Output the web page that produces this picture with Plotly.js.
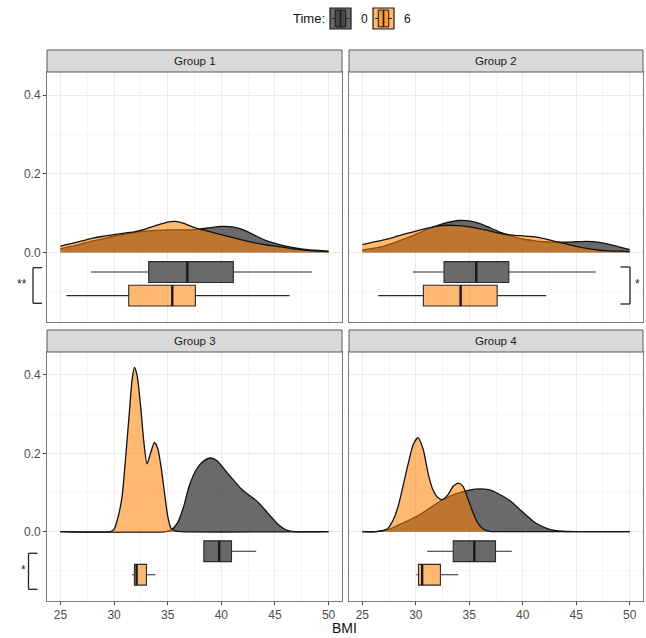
<!DOCTYPE html>
<html><head><meta charset="utf-8">
<script src="https://cdn.plot.ly/plotly-3.0.1.min.js"></script>
<style>html,body{margin:0;padding:0;background:#fff;} #chart{width:646px;height:638px;}</style>
</head><body><div id="chart"></div>
<script>
// ---------- data ----------
const groups = ['Group 1', 'Group 2', 'Group 3', 'Group 4'];
const times = ['0', '6'];
const legendTitle = 'Time:';
const bmiTicks = [25, 30, 35, 40, 45, 50];
const densityTicks = [0, 0.2, 0.4];
const densityTickText = ['0.0', '0.2', '0.4'];

// density curves (BMI, density)
const g1t0X = [25, 26, 27, 28, 29, 30, 31, 32, 33, 34, 35, 36, 37, 38, 39, 40, 41, 42, 43, 44, 45, 46, 47, 48, 49, 50];
const g1t0Y = [0.009, 0.015, 0.022, 0.029, 0.035, 0.041, 0.046, 0.051, 0.054, 0.056, 0.057, 0.057, 0.057, 0.059, 0.063, 0.066, 0.065, 0.058, 0.045, 0.032, 0.023, 0.016, 0.011, 0.007, 0.005, 0.003];
const g1t6X = [25, 26, 27, 28, 29, 30, 31, 32, 33, 34, 35, 35.7, 36.5, 37.5, 38.3, 39, 40, 41, 42, 43, 44, 45, 46, 47, 48, 49, 50];
const g1t6Y = [0.016, 0.022, 0.029, 0.036, 0.041, 0.045, 0.049, 0.053, 0.060, 0.069, 0.077, 0.079, 0.074, 0.063, 0.057, 0.052, 0.045, 0.038, 0.031, 0.025, 0.020, 0.016, 0.012, 0.008, 0.005, 0.003, 0.002];

const g2t0X = [25, 26, 27, 28, 29, 30, 31, 32, 33, 34, 35, 36, 37, 38, 39, 40, 41, 42, 43, 44, 45, 46, 47, 48, 49, 50];
const g2t0Y = [0.006, 0.010, 0.016, 0.025, 0.035, 0.046, 0.058, 0.068, 0.076, 0.081, 0.080, 0.073, 0.062, 0.050, 0.041, 0.034, 0.030, 0.027, 0.026, 0.026, 0.027, 0.028, 0.026, 0.021, 0.014, 0.007];
const g2t6X = [25, 26, 27, 28, 29, 30, 31, 32, 33, 34, 35, 36, 37, 38, 39, 40, 41, 42, 43, 44, 45, 46, 47, 48, 49, 50];
const g2t6Y = [0.020, 0.026, 0.032, 0.039, 0.047, 0.054, 0.061, 0.067, 0.069, 0.068, 0.065, 0.060, 0.054, 0.048, 0.044, 0.042, 0.040, 0.035, 0.028, 0.022, 0.015, 0.010, 0.006, 0.004, 0.003, 0.002];

const g3t0X = [25, 34.8, 35.3, 35.9, 36.5, 36.8, 37.1, 37.7, 38.35, 39.0, 39.6, 40.5, 41.15, 41.8, 42.4, 43.0, 43.6, 44.25, 44.8, 45.2, 45.7, 46.1, 46.8, 50];
const g3t0Y = [0, 0, 0.004, 0.022, 0.065, 0.097, 0.124, 0.160, 0.180, 0.188, 0.181, 0.152, 0.131, 0.111, 0.097, 0.085, 0.070, 0.050, 0.033, 0.021, 0.010, 0.004, 0, 0];
const g3t6X = [25, 29.6, 30.0, 30.4, 30.75, 31.06, 31.37, 31.68, 31.9, 32.14, 32.45, 32.76, 33.07, 33.4, 33.76, 34.07, 34.38, 34.7, 35.0, 35.3, 35.7, 36.2, 50];
const g3t6Y = [0, 0, 0.006, 0.040, 0.090, 0.183, 0.285, 0.387, 0.419, 0.400, 0.328, 0.234, 0.173, 0.200, 0.228, 0.213, 0.166, 0.100, 0.040, 0.009, 0.002, 0, 0];

const g4t0X = [25, 26.2, 27, 27.6, 28.8, 30.1, 31.3, 32.55, 33.8, 35.0, 36.0, 36.8, 37.5, 38.75, 40.0, 41.2, 42.5, 43.7, 45, 50];
const g4t0Y = [0, 0, 0.003, 0.007, 0.022, 0.039, 0.060, 0.082, 0.097, 0.106, 0.109, 0.107, 0.100, 0.080, 0.050, 0.022, 0.006, 0.001, 0, 0];
const g4t6X = [25, 26.4, 27, 27.4, 27.9, 28.35, 28.8, 29.3, 29.75, 30.2, 30.7, 31.15, 31.6, 32.1, 32.5, 33.0, 33.5, 34.0, 34.4, 34.9, 35.35, 35.8, 36.3, 36.9, 37.5, 50];
const g4t6Y = [0, 0, 0.003, 0.009, 0.031, 0.065, 0.116, 0.175, 0.222, 0.240, 0.209, 0.149, 0.107, 0.086, 0.082, 0.094, 0.116, 0.124, 0.116, 0.082, 0.048, 0.022, 0.007, 0.001, 0, 0];

const densX0 = [g1t0X, g2t0X, g3t0X, g4t0X];
const densY0 = [g1t0Y, g2t0Y, g3t0Y, g4t0Y];
const densX6 = [g1t6X, g2t6X, g3t6X, g4t6X];
const densY6 = [g1t6Y, g2t6Y, g3t6Y, g4t6Y];

// box plot statistics per group (Group 1..4)
const lowerT0 = [27.86, 29.72, 38.37, 31.06];
const q1T0 = [33.23, 32.64, 38.37, 33.50];
const medT0 = [36.83, 35.65, 39.80, 35.47];
const q3T0 = [41.12, 38.70, 40.95, 37.45];
const upperT0 = [48.45, 46.83, 43.25, 38.98];
const lowerT6 = [25.56, 26.49, 31.69, 30.06];
const q1T6 = [31.37, 30.71, 31.90, 30.25];
const medT6 = [35.43, 34.19, 32.10, 30.59];
const q3T6 = [37.58, 37.61, 33.02, 32.30];
const upperT6 = [46.37, 42.20, 33.86, 33.98];
const boxPos = [-0.05, -0.11];

// significance labels
const sigLabels = ['**', '*', '*', ''];

// ---------- styling ----------
const W = 646, H = 638;
const grayFill = 'rgba(64,64,64,0.78)';
const orangeFill = 'rgba(255,128,0,0.55)';
const xDom = [[47 / W, 342 / W], [349 / W, 643 / W]];
const yPix = [[72, 322], [352, 601]];
const yDom = yPix.map(p => [1 - p[1] / H, 1 - p[0] / H]);
const xRange = [23.75, 51.25];
const yRange = [-0.177, 0.4586];
const boxW = 0.053;

const traces = [];
const layout = {
  width: W, height: H,
  margin: {l: 0, r: 0, t: 0, b: 0},
  paper_bgcolor: '#fff', plot_bgcolor: '#fff',
  font: {family: 'Liberation Sans, Arial, sans-serif', color: '#222'},
  boxmode: 'overlay',
  showlegend: false,
  shapes: [], annotations: []
};

groups.forEach((g, i) => {
  const col = i % 2, row = Math.floor(i / 2);
  const s = i === 0 ? '' : String(i + 1);
  const xa = 'x' + s, ya = 'y' + s;
  layout['xaxis' + s] = {
    domain: xDom[col], range: xRange, anchor: ya,
    tickmode: 'array', tickvals: bmiTicks, ticktext: bmiTicks.map(String),
    showticklabels: row === 1, ticks: row === 1 ? 'outside' : '', ticklen: 3, tickcolor: '#444', tickwidth: 1,
    tickfont: {size: 12, color: '#4d4d4d'},
    showgrid: true, gridcolor: '#ebebeb', gridwidth: 1,
    minor: {tickmode: 'array', tickvals: [27.5, 32.5, 37.5, 42.5, 47.5], showgrid: true, gridcolor: '#f3f3f3', gridwidth: 0.7},
    showline: true, mirror: true, linecolor: '#7a7a7a', linewidth: 1, zeroline: false, fixedrange: true
  };
  layout['yaxis' + s] = {
    domain: yDom[row], range: yRange, anchor: xa,
    tickmode: 'array', tickvals: densityTicks, ticktext: densityTickText,
    showticklabels: col === 0, ticks: col === 0 ? 'outside' : '', ticklen: 3, tickcolor: '#444', tickwidth: 1,
    tickfont: {size: 12, color: '#4d4d4d'},
    showgrid: true, gridcolor: '#ebebeb', gridwidth: 1,
    minor: {tickmode: 'array', tickvals: [-0.1, 0.1, 0.3], showgrid: true, gridcolor: '#f3f3f3', gridwidth: 0.7},
    showline: true, mirror: true, linecolor: '#7a7a7a', linewidth: 1, zeroline: false, fixedrange: true
  };

  // densities: time 0 then time 6 on top
  traces.push({
    type: 'scatter', mode: 'lines', x: densX0[i], y: densY0[i], xaxis: xa, yaxis: ya,
    fill: 'tozeroy', fillcolor: grayFill,
    line: {color: '#111', width: 1.3, shape: 'spline', smoothing: 0.6},
    name: times[0], showlegend: false, hoverinfo: 'skip'
  });
  traces.push({
    type: 'scatter', mode: 'lines', x: densX6[i], y: densY6[i], xaxis: xa, yaxis: ya,
    fill: 'tozeroy', fillcolor: orangeFill,
    line: {color: '#111', width: 1.3, shape: 'spline', smoothing: 0.6},
    name: times[1], showlegend: false, hoverinfo: 'skip'
  });

  // box plots
  const stats = [
    [lowerT0, q1T0, medT0, q3T0, upperT0, grayFill],
    [lowerT6, q1T6, medT6, q3T6, upperT6, orangeFill]
  ];
  stats.forEach((st, t) => {
    traces.push({
      type: 'box', orientation: 'h', xaxis: xa, yaxis: ya, y: [boxPos[t]],
      lowerfence: [st[0][i]], q1: [st[1][i]], median: [st[2][i]], q3: [st[3][i]], upperfence: [st[4][i]],
      width: boxW, whiskerwidth: 0, boxpoints: false,
      fillcolor: st[5], line: {color: '#2a2a2a', width: 1.1},
      name: times[t], showlegend: false, hoverinfo: 'skip'
    });
    // thicker median bar (as ggplot's fatten)
    traces.push({
      type: 'scatter', mode: 'lines', xaxis: xa, yaxis: ya,
      x: [st[2][i], st[2][i]], y: [boxPos[t] - boxW / 2, boxPos[t] + boxW / 2],
      line: {color: '#1a1a1a', width: 2.4}, showlegend: false, hoverinfo: 'skip'
    });
  });

  // facet strip
  const stripTop = yPix[row][0] - 22;
  layout.shapes.push({
    type: 'rect', xref: 'paper', yref: 'paper',
    x0: xDom[col][0], x1: xDom[col][1], y0: 1 - yPix[row][0] / H, y1: 1 - stripTop / H,
    fillcolor: '#d9d9d9', line: {color: '#5a5a5a', width: 1}
  });
  layout.annotations.push({
    xref: 'paper', yref: 'paper', x: (xDom[col][0] + xDom[col][1]) / 2, y: 1 - (yPix[row][0] - 11) / H,
    text: g, showarrow: false, xanchor: 'center', yanchor: 'middle',
    font: {size: 11.5, color: '#1a1a1a'}
  });
});

function px(x) { return x / W; }
function py(y) { return 1 - y / H; }

// significance brackets (pixel positions of the decorations)
const brackets = [
  {xv: 33, xe: 42, yt: 267.7, yb: 303.3, tx: 22, ty: 284},
  {xv: 630, xe: 620.5, yt: 267, yb: 304, tx: 637, ty: 284},
  {xv: 28.5, xe: 37.5, yt: 553.3, yb: 589.3, tx: 23, ty: 570}
];
brackets.forEach((b, k) => {
  const ln = {color: '#222', width: 1.3};
  layout.shapes.push({type: 'line', xref: 'paper', yref: 'paper', x0: px(b.xv), x1: px(b.xv), y0: py(b.yt), y1: py(b.yb), line: ln});
  layout.shapes.push({type: 'line', xref: 'paper', yref: 'paper', x0: px(b.xv), x1: px(b.xe), y0: py(b.yt), y1: py(b.yt), line: ln});
  layout.shapes.push({type: 'line', xref: 'paper', yref: 'paper', x0: px(b.xv), x1: px(b.xe), y0: py(b.yb), y1: py(b.yb), line: ln});
  layout.annotations.push({
    xref: 'paper', yref: 'paper', x: px(b.tx), y: py(b.ty), text: sigLabels[k], showarrow: false,
    xanchor: 'center', yanchor: 'middle', font: {size: 12, color: '#222'}
  });
});

// legend: "Time:" with boxplot-style keys
const keyX = [330, 373];
const keyTop = 8, keySize = 21;
const keyFills = [grayFill, orangeFill];
layout.annotations.push({
  xref: 'paper', yref: 'paper', x: px(327), y: py(18.5), text: legendTitle, showarrow: false,
  xanchor: 'right', yanchor: 'middle', font: {size: 13, color: '#111'}
});
times.forEach((t, k) => {
  const x0 = keyX[k], x1 = x0 + keySize, y0 = keyTop, y1 = keyTop + keySize;
  const ln = {color: '#1a1a1a', width: 1};
  layout.shapes.push({type: 'rect', xref: 'paper', yref: 'paper', x0: px(x0), x1: px(x1), y0: py(y1), y1: py(y0), fillcolor: keyFills[k], line: {color: '#1a1a1a', width: 1.2}});
  layout.shapes.push({type: 'rect', xref: 'paper', yref: 'paper', x0: px(x0 + keySize * 0.25), x1: px(x0 + keySize * 0.75), y0: py(y0 + keySize * 0.9), y1: py(y0 + keySize * 0.1), fillcolor: keyFills[k], line: ln});
  layout.shapes.push({type: 'line', xref: 'paper', yref: 'paper', x0: px(x0 + keySize * 0.5), x1: px(x0 + keySize * 0.5), y0: py(y0 + keySize * 0.9), y1: py(y0 + keySize * 0.1), line: {color: '#1a1a1a', width: 1.6}});
  layout.shapes.push({type: 'line', xref: 'paper', yref: 'paper', x0: px(x0 + keySize * 0.1), x1: px(x0 + keySize * 0.25), y0: py(y0 + keySize / 2), y1: py(y0 + keySize / 2), line: ln});
  layout.shapes.push({type: 'line', xref: 'paper', yref: 'paper', x0: px(x0 + keySize * 0.75), x1: px(x0 + keySize * 0.9), y0: py(y0 + keySize / 2), y1: py(y0 + keySize / 2), line: ln});
  layout.annotations.push({
    xref: 'paper', yref: 'paper', x: px(x1 + 8), y: py(18.5), text: t, showarrow: false,
    xanchor: 'left', yanchor: 'middle', font: {size: 12, color: '#111'}
  });
});

// x-axis title
layout.annotations.push({
  xref: 'paper', yref: 'paper', x: px(344), y: py(628), text: 'BMI', showarrow: false,
  xanchor: 'center', yanchor: 'middle', font: {size: 14, color: '#111'}
});

Plotly.newPlot('chart', traces, layout, {staticPlot: true, displayModeBar: false});
</script>
</body></html>
